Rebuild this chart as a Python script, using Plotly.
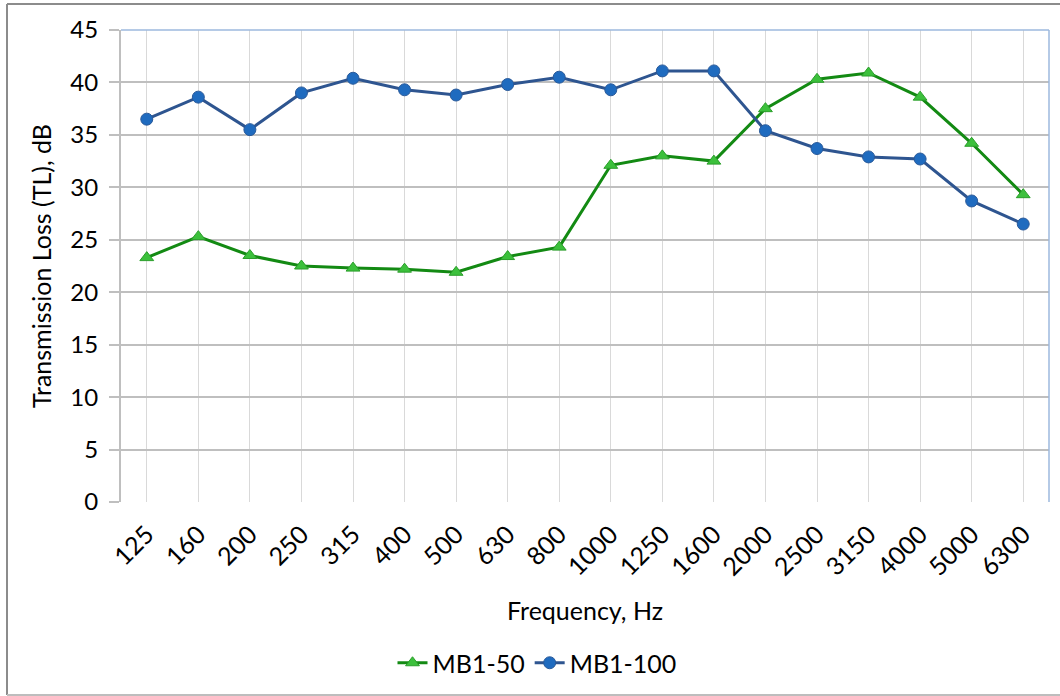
import plotly.graph_objects as go

# Third-octave band centre frequencies (Hz)
frequencies = ["125", "160", "200", "250", "315", "400", "500", "630", "800",
               "1000", "1250", "1600", "2000", "2500", "3150", "4000", "5000", "6300"]

# Transmission loss, dB
tl_mb1_50 = [23.3, 25.3, 23.5, 22.5, 22.3, 22.2, 21.9, 23.4, 24.3,
             32.1, 33.0, 32.5, 37.5, 40.3, 40.9, 38.6, 34.2, 29.3]
tl_mb1_100 = [36.5, 38.6, 35.5, 39.0, 40.4, 39.3, 38.8, 39.8, 40.5,
              39.3, 41.1, 41.1, 35.4, 33.7, 32.9, 32.7, 28.7, 26.5]

y_ticks = [0, 5, 10, 15, 20, 25, 30, 35, 40, 45]

FONT = "Lato"
x_idx = list(range(len(frequencies)))

fig = go.Figure()
fig.add_trace(go.Scatter(
    x=x_idx, y=tl_mb1_50, name="MB1-50", mode="lines+markers",
    line=dict(color="#138A13", width=3),
    marker=dict(symbol="triangle-up", size=12, color="#3CC03C",
                line=dict(color="#2A9E2A", width=1)),
))
fig.add_trace(go.Scatter(
    x=x_idx, y=tl_mb1_100, name="MB1-100", mode="lines+markers",
    line=dict(color="#2E5590", width=3),
    marker=dict(symbol="circle", size=12, color="#1F6BBF",
                line=dict(color="#2A5A9A", width=1)),
))

fig.update_layout(
    width=1060, height=696,
    margin=dict(l=121, r=11, t=30, b=194, autoexpand=False),
    paper_bgcolor="white", plot_bgcolor="white",
    font=dict(family=FONT, size=24, color="#000000"),
    showlegend=True,
    legend=dict(orientation="h", xref="container", x=537 / 1060, xanchor="center",
                yref="container", y=1 - 663 / 696, yanchor="middle",
                font=dict(family=FONT, size=25), itemwidth=30, tracegroupgap=0),
    xaxis=dict(
        range=[-0.5, len(frequencies) - 0.5], automargin=False,
        tickmode="array", tickvals=x_idx, ticktext=frequencies,
        tickangle=-45, tickfont=dict(family=FONT, size=25),
        ticklabelstandoff=12,
        showgrid=True, gridcolor="#D9D9D9", gridwidth=1,
        showline=False, zeroline=False, ticks="",
        title=dict(text="Frequency, Hz", font=dict(family=FONT, size=25), standoff=22),
    ),
    yaxis=dict(
        range=[0, 45], automargin=False, tickmode="array", tickvals=y_ticks,
        tickfont=dict(family=FONT, size=24),
        showgrid=True, gridcolor="#BFBFBF", gridwidth=1.5,
        showline=True, linecolor="#BFBFBF", linewidth=2,
        zeroline=False, ticks="outside", ticklen=10, tickcolor="#BFBFBF", tickwidth=1.5,
        ticklabelstandoff=6,
        title=dict(text="Transmission Loss (TL), dB", font=dict(family=FONT, size=25), standoff=12),
    ),
    shapes=[
        # plot-area outline on top and right edges
        dict(type="line", xref="paper", yref="paper", x0=0, x1=1, y0=1, y1=1,
             line=dict(color="#9DB8DE", width=1.5)),
        dict(type="line", xref="paper", yref="paper", x0=1, x1=1, y0=0, y1=1,
             line=dict(color="#9DB8DE", width=1.5)),
        # outer frame of the chart
        dict(type="line", xref="paper", yref="paper",
             x0=(7 - 121) / 928, x1=(1060 - 121) / 928,
             y0=1 + 26 / 472, y1=1 + 26 / 472,
             line=dict(color="#8C8C8C", width=2)),
        dict(type="line", xref="paper", yref="paper",
             x0=(7 - 121) / 928, x1=(7 - 121) / 928,
             y0=1 + 26 / 472, y1=-193 / 472,
             line=dict(color="#8C8C8C", width=2)),
        dict(type="line", xref="paper", yref="paper",
             x0=(7 - 121) / 928, x1=(1060 - 121) / 928,
             y0=-193 / 472, y1=-193 / 472,
             line=dict(color="#BDBDBD", width=2)),
    ],
)

fig.write_html("out.html")
